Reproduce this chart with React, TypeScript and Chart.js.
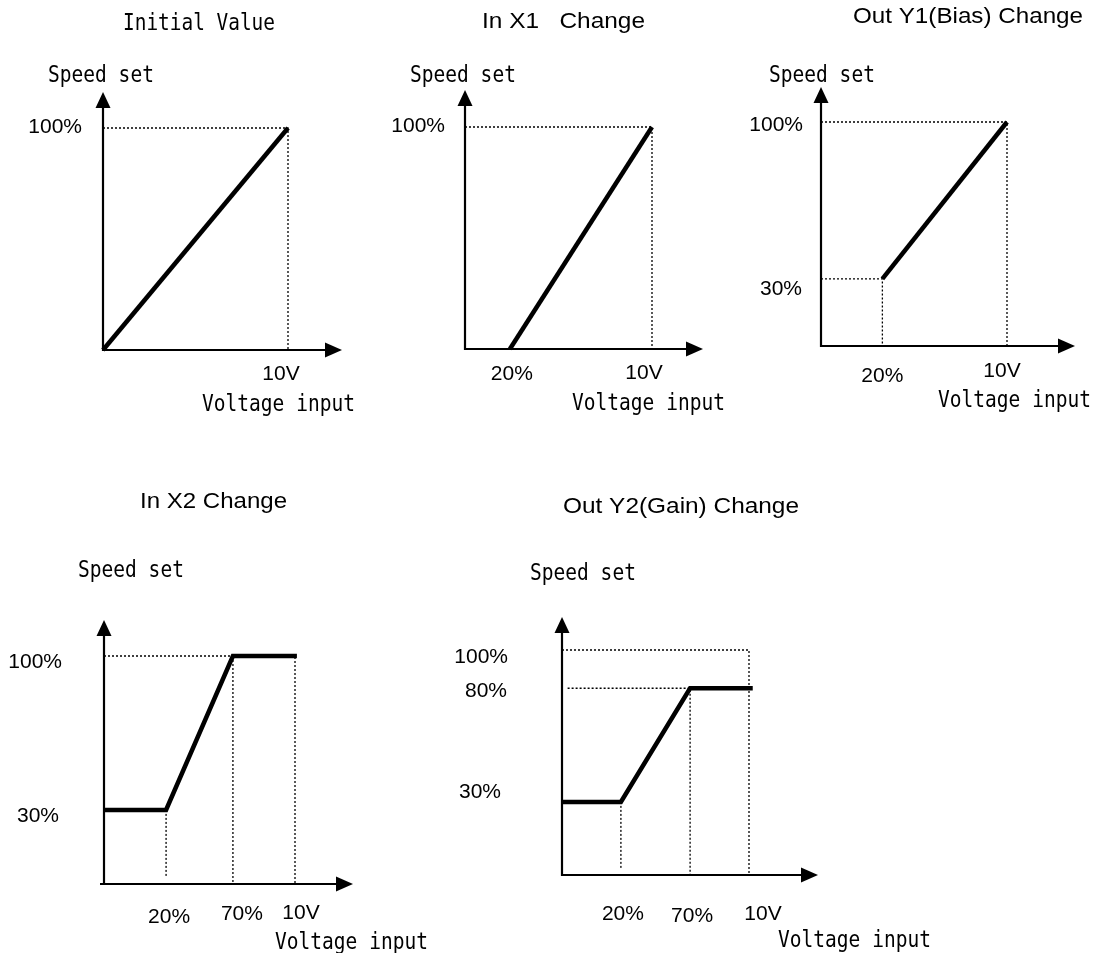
import React, { useEffect, useRef } from "react";
import { Chart, registerables } from "chart.js";

Chart.register(...registerables);

const W = 1094;
const H = 953;

// ---------- DATA (x: % of 10V input, y: % speed set) ----------
// Panel 1: Initial Value
const initialX = [0, 100];
const initialY = [0, 100];
const initialGuides = [[[0, 100], [100, 100], [100, 0]]];
const initialYTicks = [100];
const initialYTickLabels = ["100%"];
const initialXTicks = [100];
const initialXTickLabels = ["10V"];

// Panel 2: In X1 Change
const x1X = [24, 100];
const x1Y = [0, 100];
const x1Guides = [[[0, 100], [100, 100], [100, 0]]];
const x1YTicks = [100];
const x1YTickLabels = ["100%"];
const x1XTicks = [24, 100];
const x1XTickLabels = ["20%", "10V"];

// Panel 3: Out Y1 (Bias) Change
const biasX = [33, 100];
const biasY = [30, 100];
const biasGuides = [
  [[0, 100], [100, 100], [100, 0]],
  [[0, 30], [33, 30], [33, 0]],
];
const biasYTicks = [100, 30];
const biasYTickLabels = ["100%", "30%"];
const biasXTicks = [33, 100];
const biasXTickLabels = ["20%", "10V"];

// Panel 4: In X2 Change
const x2X = [0, 32.5, 67.5, 101];
const x2Y = [32.5, 32.5, 100, 100];
const x2Guides = [
  [[0, 100], [100, 100], [100, 0]],
  [[67.5, 100], [67.5, 0]],
  [[32.5, 32.5], [32.5, 3]],
];
const x2YTicks = [100, 32.5];
const x2YTickLabels = ["100%", "30%"];
const x2XTicks = [32.5, 67.5, 100];
const x2XTickLabels = ["20%", "70%", "10V"];

// Panel 5: Out Y2 (Gain) Change
const gainX = [0, 31.5, 68.5, 102];
const gainY = [32.5, 32.5, 83, 83];
const gainGuides = [
  [[0, 100], [100, 100], [100, 0]],
  [[3, 83], [68.5, 83], [68.5, 0]],
  [[31.5, 32.5], [31.5, 3]],
];
const gainYTicks = [100, 83, 32.5];
const gainYTickLabels = ["100%", "80%", "30%"];
const gainXTicks = [31.5, 68.5, 100];
const gainXTickLabels = ["20%", "70%", "10V"];

const titles = [
  "Initial Value",
  "In X1   Change",
  "Out Y1(Bias) Change",
  "In X2 Change",
  "Out Y2(Gain) Change",
];
const yAxisTitle = "Speed set";
const xAxisTitle = "Voltage input";

// ---------- LAYOUT ----------
const MONO = "'DejaVu Sans Mono', monospace";
const SANS = "'Liberation Sans', Arial, sans-serif";
const MONO_FONT = "23px " + MONO;
const MONO_SCALE = 0.85;
const SANS_FONT = "21px " + SANS;
const TITLE_FONT = "22px " + SANS;

type Layout = {
  ox: number; oy: number; fx: number; fy: number;
  yArrow: number; xArrow: number; xAxisFrom: number;
  yLabelRight: number[]; yLabelDy: number[];
  xLabelDx: number[]; xLabelBase: number[];
  title: { x: number; base: number; w: number; mono?: boolean };
  ylab: { x: number; base: number };
  xlab: { x: number; base: number };
};

const layouts: Layout[] = [
  {
    ox: 103, oy: 350, fx: 288, fy: 128, yArrow: 36, xArrow: 54, xAxisFrom: -1,
    yLabelRight: [82], yLabelDy: [5], xLabelDx: [-7], xLabelBase: [380],
    title: { x: 123, base: 30, w: 152, mono: true },
    ylab: { x: 48, base: 82 }, xlab: { x: 202, base: 411 },
  },
  {
    ox: 465, oy: 349, fx: 652, fy: 127, yArrow: 37, xArrow: 51, xAxisFrom: -1,
    yLabelRight: [445], yLabelDy: [5], xLabelDx: [2, -8], xLabelBase: [380, 379],
    title: { x: 482, base: 28, w: 163 },
    ylab: { x: 410, base: 82 }, xlab: { x: 572, base: 410 },
  },
  {
    ox: 821, oy: 346, fx: 1007, fy: 122, yArrow: 35, xArrow: 68, xAxisFrom: -1,
    yLabelRight: [803, 802], yLabelDy: [9, 16], xLabelDx: [0, -5], xLabelBase: [382, 377],
    title: { x: 853, base: 23, w: 230 },
    ylab: { x: 769, base: 82 }, xlab: { x: 938, base: 407 },
  },
  {
    ox: 104, oy: 884, fx: 295, fy: 656, yArrow: 36, xArrow: 58, xAxisFrom: -4,
    yLabelRight: [62, 59], yLabelDy: [12, 12], xLabelDx: [3, 9, 6], xLabelBase: [923, 920, 919],
    title: { x: 140, base: 508, w: 147 },
    ylab: { x: 78, base: 577 }, xlab: { x: 275, base: 949 },
  },
  {
    ox: 562, oy: 875, fx: 749, fy: 650, yArrow: 33, xArrow: 69, xAxisFrom: 1,
    yLabelRight: [508, 507, 501], yLabelDy: [13, 9, -4], xLabelDx: [2, 2, 14], xLabelBase: [920, 922, 920],
    title: { x: 563, base: 513, w: 236 },
    ylab: { x: 530, base: 580 }, xlab: { x: 778, base: 947 },
  },
];

const panels = [
  { xs: initialX, ys: initialY, guides: initialGuides, yTicks: initialYTicks, yLabels: initialYTickLabels, xTicks: initialXTicks, xLabels: initialXTickLabels },
  { xs: x1X, ys: x1Y, guides: x1Guides, yTicks: x1YTicks, yLabels: x1YTickLabels, xTicks: x1XTicks, xLabels: x1XTickLabels },
  { xs: biasX, ys: biasY, guides: biasGuides, yTicks: biasYTicks, yLabels: biasYTickLabels, xTicks: biasXTicks, xLabels: biasXTickLabels },
  { xs: x2X, ys: x2Y, guides: x2Guides, yTicks: x2YTicks, yLabels: x2YTickLabels, xTicks: x2XTicks, xLabels: x2XTickLabels },
  { xs: gainX, ys: gainY, guides: gainGuides, yTicks: gainYTicks, yLabels: gainYTickLabels, xTicks: gainXTicks, xLabels: gainXTickLabels },
];

function drawText(
  ctx: CanvasRenderingContext2D, text: string, x: number, base: number,
  font: string, scaleX: number, align: CanvasTextAlign = "left"
) {
  ctx.save();
  ctx.font = font;
  ctx.fillStyle = "#000";
  ctx.textBaseline = "alphabetic";
  ctx.textAlign = align;
  ctx.translate(x, base);
  ctx.scale(scaleX, 1);
  ctx.fillText(text, 0, 0);
  ctx.restore();
}

function makeDecor(idx: number) {
  const L = layouts[idx];
  const P = panels[idx];
  return {
    id: "decor" + idx,
    beforeDatasetsDraw(chart: any) {
      const ctx: CanvasRenderingContext2D = chart.ctx;
      const xs = chart.scales.x;
      const ys = chart.scales.y;
      const ox = xs.getPixelForValue(0);
      const oy = ys.getPixelForValue(0);
      const top = ys.getPixelForValue(100) - L.yArrow;
      const right = xs.getPixelForValue(100) + L.xArrow;
      ctx.save();
      ctx.strokeStyle = "#000";
      ctx.fillStyle = "#000";
      ctx.lineWidth = 2.2;
      ctx.lineCap = "butt";
      // y axis
      ctx.beginPath();
      ctx.moveTo(ox, oy + 1);
      ctx.lineTo(ox, top + 12);
      ctx.stroke();
      ctx.beginPath();
      ctx.moveTo(ox, top);
      ctx.lineTo(ox - 7.5, top + 16);
      ctx.lineTo(ox + 7.5, top + 16);
      ctx.closePath();
      ctx.fill();
      // x axis
      ctx.beginPath();
      ctx.moveTo(ox + L.xAxisFrom, oy);
      ctx.lineTo(right - 12, oy);
      ctx.stroke();
      ctx.beginPath();
      ctx.moveTo(right, oy);
      ctx.lineTo(right - 17, oy - 7.5);
      ctx.lineTo(right - 17, oy + 7.5);
      ctx.closePath();
      ctx.fill();
      ctx.restore();
    },
    afterDatasetsDraw(chart: any) {
      const ctx: CanvasRenderingContext2D = chart.ctx;
      const xs = chart.scales.x;
      const ys = chart.scales.y;
      // y tick labels
      P.yTicks.forEach((v, i) => {
        drawText(ctx, P.yLabels[i], L.yLabelRight[i], ys.getPixelForValue(v) + L.yLabelDy[i], SANS_FONT, 1, "right");
      });
      // x tick labels
      P.xTicks.forEach((v, i) => {
        drawText(ctx, P.xLabels[i], xs.getPixelForValue(v) + L.xLabelDx[i], L.xLabelBase[i], SANS_FONT, 1, "center");
      });
      // axis titles
      drawText(ctx, yAxisTitle, L.ylab.x, L.ylab.base, MONO_FONT, MONO_SCALE);
      drawText(ctx, xAxisTitle, L.xlab.x, L.xlab.base, MONO_FONT, MONO_SCALE);
      // panel title
      const t = L.title;
      const font = t.mono ? MONO_FONT : TITLE_FONT;
      ctx.save();
      ctx.font = font;
      const natural = ctx.measureText(titles[idx]).width;
      ctx.restore();
      drawText(ctx, titles[idx], t.x, t.base, font, t.w / natural);
    },
  };
}

function Panel({ idx }: { idx: number }) {
  const ref = useRef<HTMLCanvasElement>(null);
  useEffect(() => {
    const L = layouts[idx];
    const P = panels[idx];
    const datasets: any[] = [
      {
        data: P.xs.map((x, i) => ({ x, y: P.ys[i] })),
        borderColor: "#000",
        borderWidth: 4.5,
        pointRadius: 0,
        tension: 0,
        clip: false,
        borderCapStyle: "butt",
        borderJoinStyle: "miter",
      },
      ...P.guides.map((g) => ({
        data: g.map(([x, y]) => ({ x, y })),
        borderColor: "#000",
        borderWidth: 1.3,
        borderDash: [2, 2],
        pointRadius: 0,
        tension: 0,
        clip: false,
      })),
    ];
    const chart = new Chart(ref.current as HTMLCanvasElement, {
      type: "line",
      data: { datasets },
      options: {
        animation: false,
        responsive: false,
        maintainAspectRatio: false,
        events: [],
        layout: {
          padding: { left: L.ox, top: L.fy, right: W - L.fx, bottom: H - L.oy },
        },
        scales: {
          x: { type: "linear", min: 0, max: 100, display: false },
          y: { type: "linear", min: 0, max: 100, display: false },
        },
        plugins: {
          legend: { display: false },
          tooltip: { enabled: false },
          title: { display: false },
        },
      },
      plugins: [makeDecor(idx)],
    } as any);
    return () => chart.destroy();
  }, [idx]);
  return (
    <canvas
      ref={ref}
      width={W}
      height={H}
      style={{ position: "absolute", left: 0, top: 0 }}
    />
  );
}

export default function App() {
  return (
    <div style={{ position: "absolute", left: 0, top: 0, width: W, height: H, background: "#fff", overflow: "hidden" }}>
      {panels.map((_, i) => (
        <Panel key={i} idx={i} />
      ))}
    </div>
  );
}
